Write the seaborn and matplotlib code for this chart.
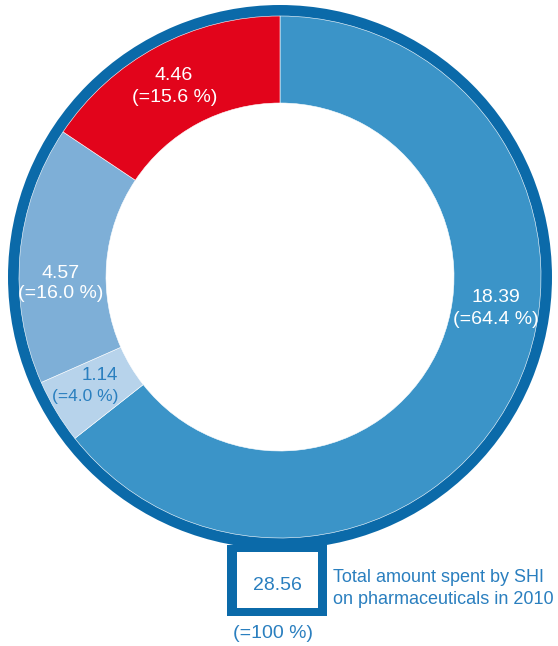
import matplotlib
matplotlib.use("Agg")
import matplotlib.pyplot as plt
from matplotlib.patches import Rectangle
import seaborn as sns

sns.set_theme(style="white")
plt.rcParams['font.family'] = ['Liberation Sans', 'DejaVu Sans']

# ---- data ----
categories = ["Segment A", "Segment B", "Segment C", "Segment D"]
values = [18.39, 1.14, 4.57, 4.46]
shares = ["64.4", "4.0", "16.0", "15.6"]
total_value = "28.56"
total_share = "100"
caption_lines = ["Total amount spent by SHI", "on pharmaceuticals in 2010"]

seg_colors = ["#3b94c8", "#b7d3eb", "#7eafd7", "#e2041b"]
label_colors = ["white", "#2a7fbf", "white", "white"]
ring_color = "#0b6aa9"
text_blue = "#2a7fbf"

W, H = 558, 646
fig = plt.figure(figsize=(W / 100, H / 100), dpi=100)
ax = fig.add_axes([0, 0, 1, 1])

def Y(y):
    return H - y

cx, cy = 280, Y(277)

# outer dark ring
ax.pie([1], colors=[ring_color], radius=272, center=(cx, cy),
       wedgeprops=dict(width=12, linewidth=0))
# segments
ax.pie(values, colors=seg_colors, radius=261, center=(cx, cy), startangle=90,
       counterclock=False, wedgeprops=dict(width=87, edgecolor="white", linewidth=0.4))

ax.set_xlim(0, W)
ax.set_ylim(0, H)
ax.set_aspect("equal")
ax.axis("off")

# segment labels (layout positions)
# (x, y of first line, x of second line, ha of first, ha of second, size, second-line size)
label_layout = [
    (496, 298, 496, "center", "center", 14, 14),
    (118, 376, 52, "right", "left", 13.5, 12.5),
    (61, 273, 61, "center", "center", 14, 14),
    (174, 76, 175, "center", "center", 14, 14),
]
for v, s, c, (x1, y1, x2, ha1, ha2, fs1, fs2) in zip(values, shares, label_colors, label_layout):
    ax.text(x1, Y(y1), f"{v:.2f}", color=c, fontsize=fs1, ha=ha1, va="center")
    ax.text(x2, Y(y1 + 21), f"(={s} %)", color=c, fontsize=fs2, ha=ha2, va="center")

# total box
ax.add_patch(Rectangle((227, Y(616)), 100, 71, facecolor=ring_color, edgecolor="none", zorder=3))
ax.add_patch(Rectangle((237, Y(608)), 81, 56, facecolor="white", edgecolor="none", zorder=4))
ax.text(277, Y(585), total_value, color=text_blue, fontsize=14, ha="center", va="center", zorder=5)
ax.text(273, Y(633), f"(={total_share} %)", color=text_blue, fontsize=14, ha="center", va="center")
ax.text(333, Y(578), caption_lines[0], color=text_blue, fontsize=13, ha="left", va="center")
ax.text(333, Y(599), caption_lines[1], color=text_blue, fontsize=13, ha="left", va="center")

fig.savefig("out.png", dpi=100, facecolor="white")
